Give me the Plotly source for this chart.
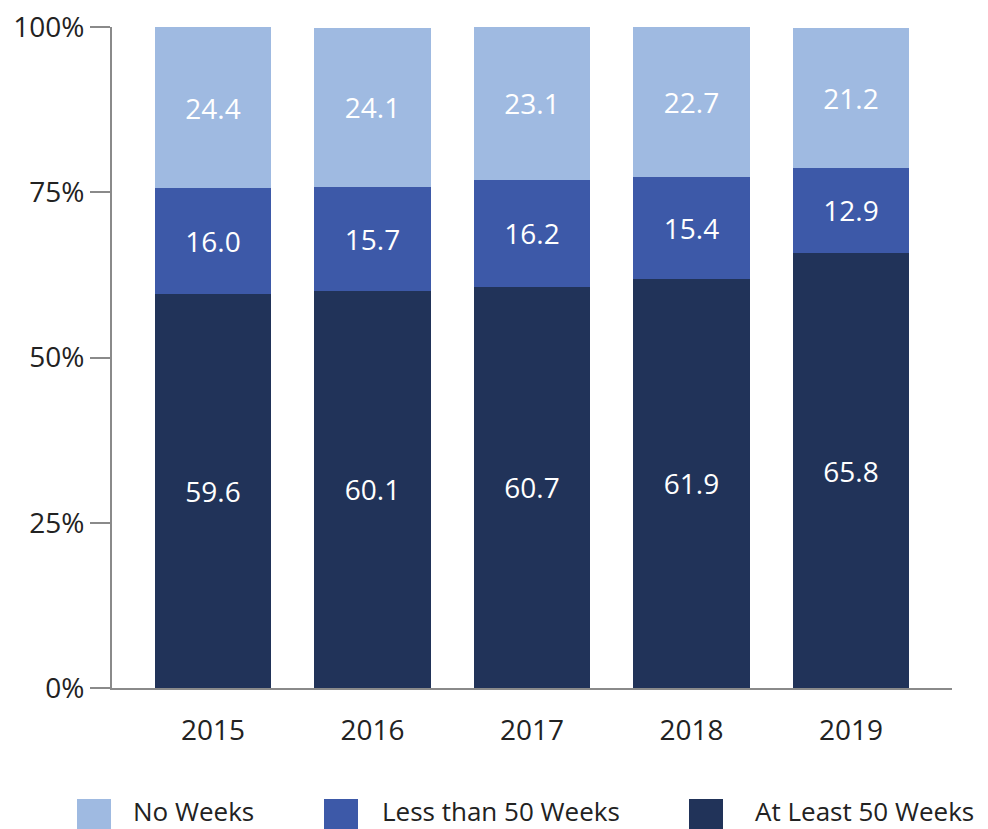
import plotly.graph_objs as go

# data
years = ["2015", "2016", "2017", "2018", "2019"]
at_least_50 = [59.6, 60.1, 60.7, 61.9, 65.8]
less_than_50 = [16.0, 15.7, 16.2, 15.4, 12.9]
no_weeks = [24.4, 24.1, 23.1, 22.7, 21.2]
series_names = ["At Least 50 Weeks", "Less than 50 Weeks", "No Weeks"]
y_ticks = [0, 25, 50, 75, 100]
y_tick_text = ["0%", "25%", "50%", "75%", "100%"]

colors = {"At Least 50 Weeks": "#213359",
          "Less than 50 Weeks": "#3d59a8",
          "No Weeks": "#9fbae1"}
font_family = "Open Sans, Noto Sans, sans-serif"
axis_gray = "#8a8a8a"
fsize = 28

fig = go.Figure()

for name, vals in zip(series_names, [at_least_50, less_than_50, no_weeks]):
    fig.add_trace(go.Bar(
        x=years, y=vals, name=name,
        marker=dict(color=colors[name], line=dict(width=0)),
        text=[f"{v:.1f}" for v in vals], textposition="inside",
        insidetextanchor="middle", textangle=0,
        textfont=dict(color="white", size=fsize, family=font_family),
        showlegend=False, hoverinfo="skip"))

fig.update_layout(
    barmode="stack", bargap=0.27,
    width=988, height=829, autosize=False,
    paper_bgcolor="white", plot_bgcolor="white",
    font=dict(family=font_family, color="#222222", size=fsize),
    margin=dict(l=112, r=36, t=27, b=141, pad=0, autoexpand=False),
    xaxis=dict(range=[-0.633, 4.633], showline=True, linecolor=axis_gray, linewidth=2,
               ticks="", showgrid=False, zeroline=False, ticklabelstandoff=16,
               automargin=False, tickfont=dict(size=fsize, color="#222222")),
    yaxis=dict(range=[0, 100], tickmode="array", tickvals=y_ticks, ticktext=y_tick_text,
               showline=True, linecolor=axis_gray, linewidth=2, ticks="outside", ticklen=20,
               tickwidth=2, tickcolor=axis_gray, showgrid=False, zeroline=False,
               automargin=False, tickfont=dict(size=fsize, color="#222222")),
)

# custom legend with large swatches
legend_items = [("No Weeks", 77, 131), ("Less than 50 Weeks", 324, 380),
                ("At Least 50 Weeks", 689, 753)]
for name, sx, tx in legend_items:
    fig.add_shape(type="rect", xref="paper", yref="paper",
                  x0=(sx - 112) / 840, x1=(sx + 34 - 112) / 840,
                  y0=(688 - 835) / 661, y1=(688 - 799) / 661,
                  fillcolor=colors[name], line=dict(width=0))
    fig.add_annotation(xref="paper", yref="paper", x=(tx - 112) / 840,
                       y=(688 - 811) / 661, text=name, showarrow=False,
                       xanchor="left", yanchor="middle",
                       font=dict(size=26, color="#222222"))

fig.write_html("out.html", config={"displayModeBar": False},
               post_script="document.body.style.margin='0';document.body.style.overflow='hidden';")
